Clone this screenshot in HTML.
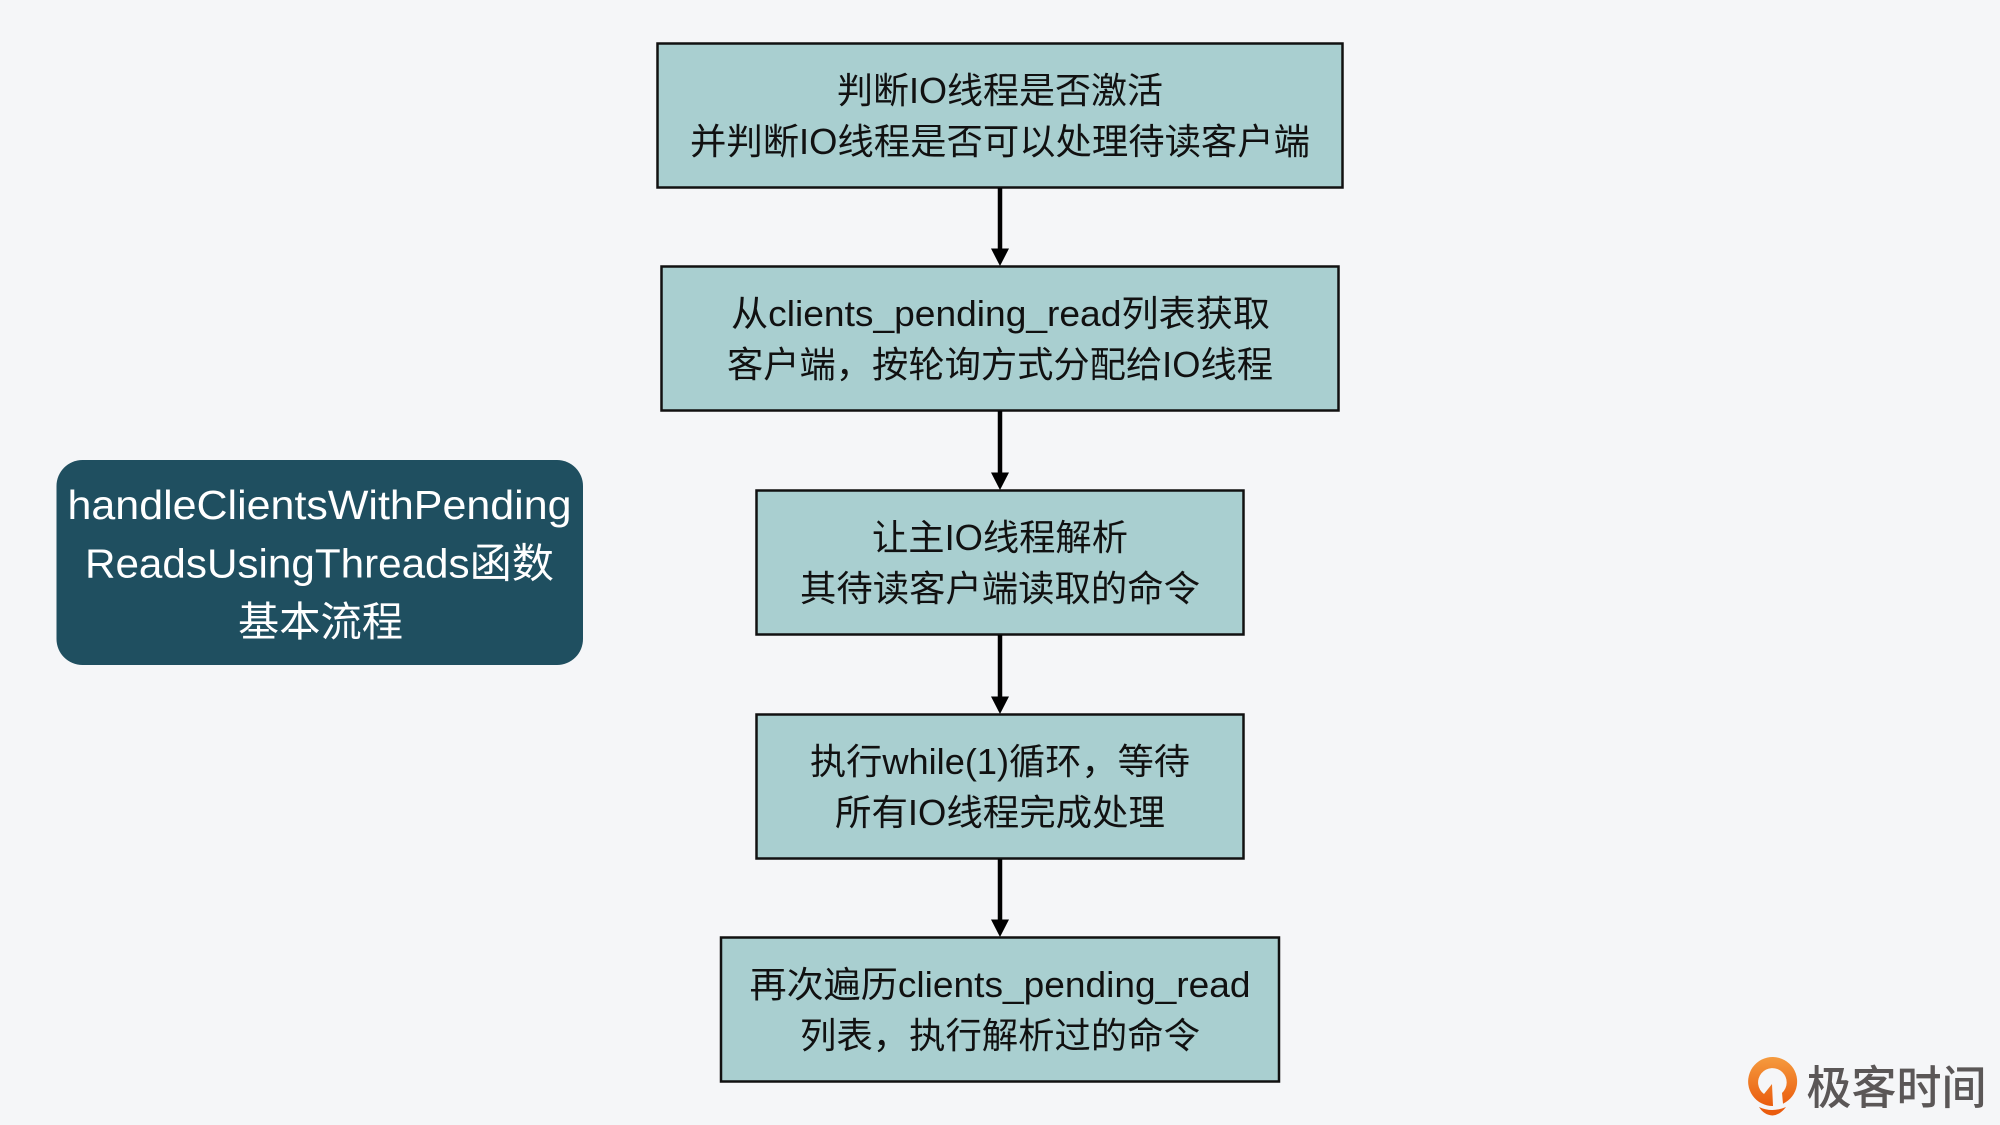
<!DOCTYPE html>
<html><head><meta charset="utf-8"><style>
html,body{margin:0;padding:0;width:2000px;height:1125px;overflow:hidden;background:#f5f6f8}
svg{display:block}
text{font-family:"Liberation Sans","Noto Sans CJK SC",sans-serif;font-size:36px;fill:#111}
.w{font-size:41px;fill:#fff}
.logo{font-size:46px;fill:#5b5757;font-weight:500}
</style></head><body>
<svg width="2000" height="1125" viewBox="0 0 2000 1125" xmlns="http://www.w3.org/2000/svg">
<defs><linearGradient id="g" x1="0" y1="0" x2="0" y2="1"><stop offset="0" stop-color="#f59b3f"/><stop offset="1" stop-color="#ea5c0e"/></linearGradient></defs>
<rect width="2000" height="1125" fill="#f5f6f8"/>
<g fill="#a9cfd0" stroke="#111" stroke-width="2.5">
<rect x="657.5" y="43.5" width="685" height="144"/>
<rect x="661.5" y="266.5" width="677" height="144"/>
<rect x="756.5" y="490.5" width="487" height="144"/>
<rect x="756.5" y="714.5" width="487" height="144"/>
<rect x="721" y="937.5" width="558" height="144"/>
</g>
<rect x="56.5" y="460" width="526.5" height="205" rx="26" fill="#1f4f60"/>
<g stroke="#000" stroke-width="4.5" fill="none">
<path d="M1000 188V252M1000 411V476M1000 635V700M1000 859V923"/>
</g>
<g fill="#000">
<path d="M991 248.500H1009L1000 266Z"/>
<path d="M991 472.500H1009L1000 490Z"/>
<path d="M991 696.500H1009L1000 714Z"/>
<path d="M991 919.500H1009L1000 937Z"/>
</g>
<text x="837" y="103" textLength="326" lengthAdjust="spacingAndGlyphs">判断IO线程是否激活</text>
<text x="690" y="154" textLength="620" lengthAdjust="spacingAndGlyphs">并判断IO线程是否可以处理待读客户端</text>
<text x="731" y="326" textLength="539" lengthAdjust="spacingAndGlyphs">从clients_pending_read列表获取</text>
<text x="727" y="377" textLength="546" lengthAdjust="spacingAndGlyphs">客户端，按轮询方式分配给IO线程</text>
<text x="872" y="550" textLength="256" lengthAdjust="spacingAndGlyphs">让主IO线程解析</text>
<text x="800" y="601" textLength="400" lengthAdjust="spacingAndGlyphs">其待读客户端读取的命令</text>
<text x="810" y="774" textLength="380" lengthAdjust="spacingAndGlyphs">执行while(1)循环，等待</text>
<text x="835" y="825" textLength="330" lengthAdjust="spacingAndGlyphs">所有IO线程完成处理</text>
<text x="749.500" y="997" textLength="501" lengthAdjust="spacingAndGlyphs">再次遍历clients_pending_read</text>
<text x="800" y="1048" textLength="400" lengthAdjust="spacingAndGlyphs">列表，执行解析过的命令</text>
<text class="w" x="67.500" y="519" textLength="504" lengthAdjust="spacingAndGlyphs">handleClientsWithPending</text>
<text class="w" x="85" y="577.500" textLength="469" lengthAdjust="spacingAndGlyphs">ReadsUsingThreads函数</text>
<text class="w" x="238" y="636" textLength="165" lengthAdjust="spacingAndGlyphs">基本流程</text>
<path fill="url(#g)" d="M1773 1106A24.500 24.500 0 1 1 1783 1103.700L1782 1093A14.300 14.300 0 1 0 1764 1094L1772 1084Z"/>
<path fill="#ea5c0e" d="M1759 1107Q1772 1113 1786 1107Q1780 1115 1772.500 1115.500Q1764 1115 1759 1107Z"/>
<text class="logo" x="1806.500" y="1104" textLength="180" lengthAdjust="spacingAndGlyphs">极客时间</text>
</svg>
</body></html>
